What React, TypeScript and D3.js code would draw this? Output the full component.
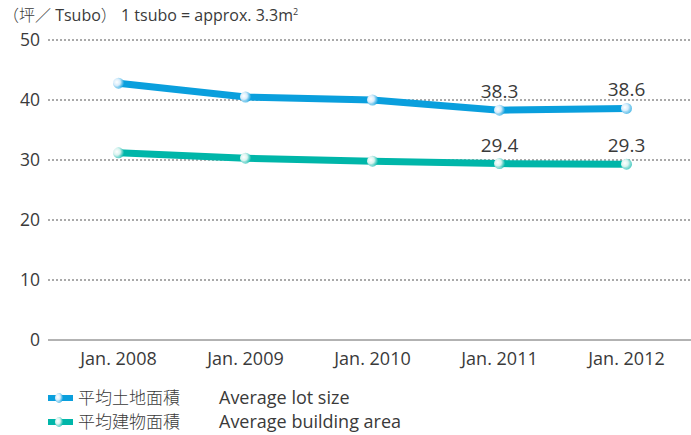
import React from "react";
import { scaleBand, scaleLinear, line } from "d3";

const years = ["Jan. 2008", "Jan. 2009", "Jan. 2010", "Jan. 2011", "Jan. 2012"];
const lotSize = [42.8, 40.5, 40.0, 38.3, 38.6];
const buildingArea = [31.2, 30.3, 29.8, 29.4, 29.3];
const yTicks = [0, 10, 20, 30, 40, 50];
const labeledIdx = [3, 4];

const font = "'Open Sans', 'Noto Sans CJK JP', sans-serif";
const cjkFont = "'Noto Sans CJK JP', sans-serif";
const textColor = "#3a3a3a";

export default function App() {
  const width = 691,
    height = 435;
  const left = 48,
    right = 691,
    top = 40,
    bottom = 340;

  const x = scaleBand<string>().domain(years).range([55, 690]);
  const y = scaleLinear().domain([0, 50]).range([bottom, top]);
  const cx = (d: string) => (x(d) as number) + x.bandwidth() / 2;

  const path = line<number>()
    .x((_, i) => cx(years[i]))
    .y(d => y(d));

  const series = [
    { name: "lot", values: lotSize, color: "#0a9fdd", light: "#d6ecfb", jp: "平均土地面積", en: "Average lot size" },
    { name: "bld", values: buildingArea, color: "#00b6a9", light: "#d8f3ef", jp: "平均建物面積", en: "Average building area" }
  ];

  return (
    <svg
      width={width}
      height={height}
      style={{ position: "absolute", left: 0, top: 0, fontFamily: font }}
    >
      <defs>
        {series.map(s => (
          <radialGradient key={s.name} id={`g-${s.name}`} cx="35%" cy="40%" r="70%">
            <stop offset="0%" stopColor="#ffffff" />
            <stop offset="45%" stopColor={s.light} />
            <stop offset="100%" stopColor={s.color} stopOpacity={0.7} />
          </radialGradient>
        ))}
      </defs>
      <rect width={width} height={height} fill="#fff" />
      <text x={3} y={21} fontSize={16} fill={textColor}>
        <tspan fontFamily={cjkFont} fontWeight={300}>（坪／</tspan> Tsubo
        <tspan fontFamily={cjkFont} fontWeight={300}>）</tspan>  1 tsubo = approx. 3.3m
        <tspan fontSize={9} dy={-6}>2</tspan>
      </text>
      {yTicks.map(t => (
        <g key={t}>
          <line
            x1={left}
            x2={right}
            y1={y(t)}
            y2={y(t)}
            stroke={t === 0 ? "#666" : "#555"}
            strokeWidth={1}
            strokeDasharray={t === 0 ? undefined : "2,2"}
          />
          <text x={40} y={y(t)} dy="0.36em" textAnchor="end" fontSize={17.5} fill={textColor}>
            {t}
          </text>
        </g>
      ))}
      {years.map(d => (
        <text key={d} x={cx(d)} y={365} textAnchor="middle" fontSize={18} fill={textColor}>
          {d}
        </text>
      ))}
      {series.map(s => (
        <g key={s.name}>
          <path d={path(s.values) as string} fill="none" stroke={s.color} strokeWidth={7} />
          {s.values.map((v, i) => (
            <circle key={i} cx={cx(years[i])} cy={y(v)} r={5.5} fill={`url(#g-${s.name})`} />
          ))}
          {labeledIdx.map(i => (
            <text key={i} x={cx(years[i])} y={y(s.values[i]) - 12} textAnchor="middle" fontSize={19} fill={textColor}>
              {s.values[i].toFixed(1)}
            </text>
          ))}
        </g>
      ))}
      {series.map((s, i) => {
        const ly = 398 + i * 24;
        return (
          <g key={s.name}>
            <rect x={48} y={ly - 3} width={25} height={6} fill={s.color} />
            <ellipse cx={59} cy={ly} rx={4} ry={5} fill={`url(#g-${s.name})`} />
            <text x={78} y={ly} dy="0.35em" fontSize={17} fontFamily={cjkFont} fontWeight={300} fill={textColor}>
              {s.jp}
            </text>
            <text x={219} y={ly} dy="0.35em" fontSize={18} fill={textColor}>
              {s.en}
            </text>
          </g>
        );
      })}
    </svg>
  );
}
